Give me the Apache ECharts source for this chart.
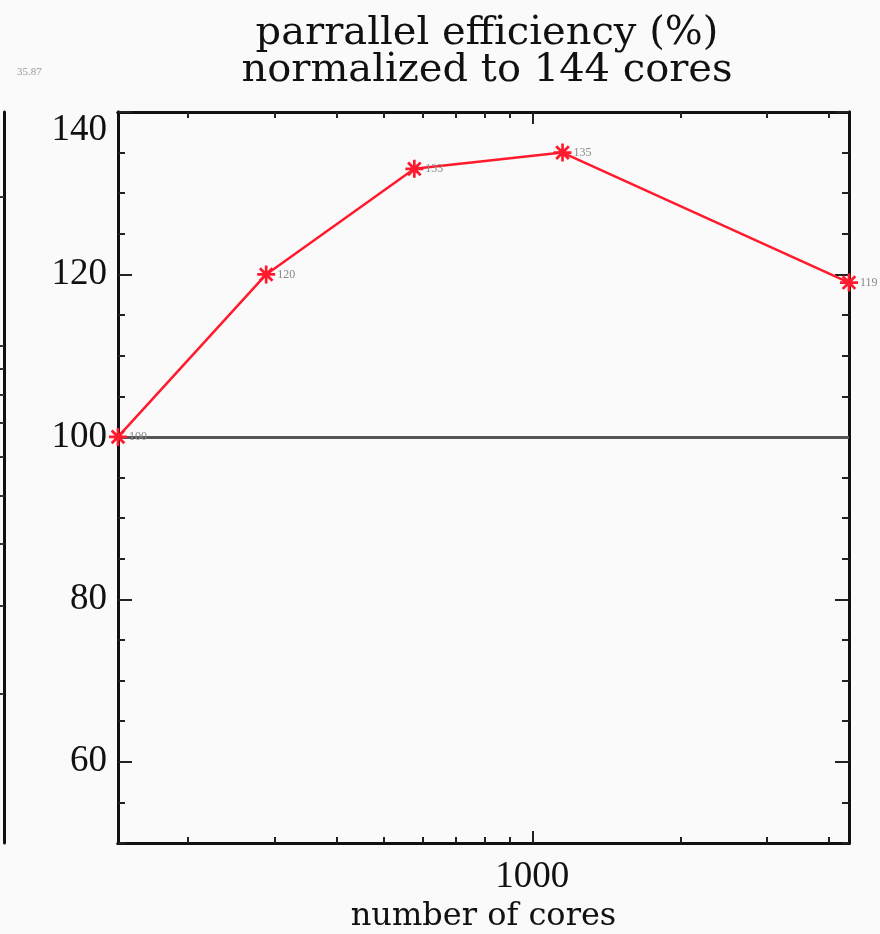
<!DOCTYPE html>
<html><head><meta charset="utf-8">
<script src="https://cdn.jsdelivr.net/npm/echarts@6/dist/echarts.min.js"></script>
<style>html,body{margin:0;background:#fafafa}#c{width:880px;height:934px}</style>
</head><body><div id="c"></div>
<script>
const cores = [144, 288, 576, 1152, 4400];
const efficiency = [100, 120, 133, 135, 119];
const pointLabels = ['100', '120', '133', '135', '119'];
const yMajorTicks = [60, 80, 100, 120, 140];
const xMajorTicks = [1000];
const xMinorTicks = [200, 300, 400, 500, 600, 700, 800, 900, 2000, 3000, 4000];
const baseline = 100;
const sideLabel = '35.87';
const sideTicks = [2, 3, 4, 5, 6, 7, 8, 9, 10, 20];

const serifNum = 'Liberation Serif';
const serifTxt = 'DejaVu Serif';
const star = 'path://M-1.5,-10L1.5,-10L1.5,10L-1.5,10Z M-10,-1.5L10,-1.5L10,1.5L-10,1.5Z M-8.1,-5.9L-5.9,-8.1L8.1,5.9L5.9,8.1Z M5.9,-8.1L8.1,-5.9L-5.9,8.1L-8.1,5.9Z';

const chart = echarts.init(document.getElementById('c'));
const lineBlack = {show: true, lineStyle: {color: '#111', width: 3}};

function xAx(pos, ticks, len, opts) {
  return Object.assign({
    type: 'log', gridIndex: 0, position: pos, min: 144, max: 4400,
    axisLine: lineBlack, splitLine: {show: false},
    axisTick: {show: true, inside: true, length: len, customValues: ticks, lineStyle: {color: '#222', width: 2}},
    axisLabel: {show: false}
  }, opts || {});
}
function yAx(pos, len, opts) {
  return Object.assign({
    type: 'value', gridIndex: 0, position: pos, min: 50, max: 140,
    axisLine: lineBlack, splitLine: {show: false},
    axisTick: {show: true, inside: true, length: len, lineStyle: {color: '#222', width: 2}},
    axisLabel: {show: false}
  }, opts || {});
}

chart.setOption({
  backgroundColor: '#fafafa',
  animation: false,
  title: [
    {text: 'parrallel efficiency (%)\nnormalized to 144 cores', left: 482, top: 10, textAlign: 'center',
     textStyle: {fontFamily: serifTxt, fontSize: 40, fontWeight: 'normal', color: '#111', lineHeight: 37}},
    {text: sideLabel, left: 12, top: 62, textStyle: {fontFamily: serifNum, fontSize: 11, fontWeight: 'normal', color: '#999'}}
  ],
  grid: [
    {left: 118, right: 31, top: 112, bottom: 91, outerBoundsMode: 'none'},
    {left: 4, width: 1, top: 112, bottom: 91, outerBoundsMode: 'none'}
  ],
  xAxis: [
    xAx('bottom', xMajorTicks, 12, {
      axisLabel: {show: true, customValues: xMajorTicks, margin: 16, fontFamily: serifNum, fontSize: 37, color: '#111',
                  formatter: v => String(v)},
      name: 'number of cores', nameLocation: 'middle', nameGap: 58,
      nameTextStyle: {fontFamily: serifTxt, fontSize: 32, color: '#111'}
    }),
    xAx('bottom', xMinorTicks, 6),
    xAx('top', xMajorTicks, 12),
    xAx('top', xMinorTicks, 6),
    {type: 'value', gridIndex: 1, position: 'bottom', min: 0, max: 1, axisLine: {show: false}, axisTick: {show: false}, axisLabel: {show: false}, splitLine: {show: false}}
  ],
  yAxis: [
    yAx('left', 14, {
      axisTick: {show: true, inside: true, length: 14, customValues: yMajorTicks, lineStyle: {color: '#222', width: 2}},
      axisLabel: {show: true, customValues: yMajorTicks, margin: 11, fontFamily: serifNum, fontSize: 37, color: '#111',
                  verticalAlignMaxLabel: 'top'}
    }),
    yAx('left', 7, {interval: 5}),
    yAx('right', 14, {axisTick: {show: true, inside: true, length: 14, customValues: yMajorTicks, lineStyle: {color: '#222', width: 2}}}),
    yAx('right', 7, {interval: 5}),
    {type: 'log', gridIndex: 1, position: 'left', min: 1, max: 29.6, axisLine: lineBlack, splitLine: {show: false},
     axisTick: {show: true, inside: false, length: 5, customValues: sideTicks, lineStyle: {color: '#333', width: 2}},
     axisLabel: {show: false}}
  ],
  series: [{
    type: 'line', xAxisIndex: 0, yAxisIndex: 0,
    data: cores.map((c, i) => [c, efficiency[i]]),
    symbol: star, symbolSize: 18, showAllSymbol: true,
    lineStyle: {color: '#ff1a2e', width: 2.5},
    itemStyle: {color: '#ff1a2e'},
    label: {show: true, position: 'right', distance: 2, fontSize: 12, fontFamily: serifNum, color: '#888',
            formatter: p => pointLabels[p.dataIndex]},
    markLine: {silent: true, symbol: 'none', label: {show: false},
               lineStyle: {color: '#555', width: 3, type: 'solid'},
               data: [{yAxis: baseline}]},
    z: 5
  }]
});
</script></body></html>
